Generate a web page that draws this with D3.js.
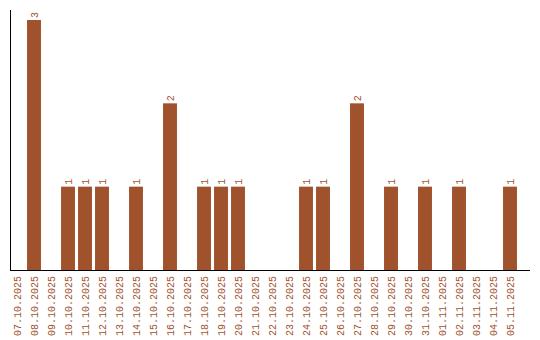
<!DOCTYPE html>
<html>
<head>
<meta charset="utf-8">
<script src="https://cdn.jsdelivr.net/npm/d3@7"></script>
<style>
  body { margin: 0; background: #fff; }
  text { font-family: "Liberation Mono", monospace; font-size: 10px; fill: #a0522d; }
</style>
</head>
<body>
<script>
// dates shown along the bottom
const dates = ['07.10.2025', '08.10.2025', '09.10.2025', '10.10.2025', '11.10.2025', '12.10.2025',
  '13.10.2025', '14.10.2025', '15.10.2025', '16.10.2025', '17.10.2025', '18.10.2025', '19.10.2025',
  '20.10.2025', '21.10.2025', '22.10.2025', '23.10.2025', '24.10.2025', '25.10.2025', '26.10.2025',
  '27.10.2025', '28.10.2025', '29.10.2025', '30.10.2025', '31.10.2025', '01.11.2025', '02.11.2025',
  '03.11.2025', '04.11.2025', '05.11.2025'];

// count per day
const counts = [0, 3, 0, 1, 1, 1, 0, 1, 0, 2, 0, 1, 1, 1, 0, 0, 0, 1, 1, 0,
  2, 0, 1, 0, 1, 0, 1, 0, 0, 1];

const yDomain = [0, 3];

let width = 540,
  height = 340;

let svg = d3.select('body').append('svg')
  .attr('width', width)
  .attr('height', height);

let x = d3.scaleBand()
  .domain(dates)
  .range([8.5, 518.5])
  .paddingInner(0.18)
  .paddingOuter(0.09);

let y = d3.scaleLinear()
  .domain(yDomain)
  .range([270, 20]);

let data = dates.map((d, i) => ({ date: d, value: counts[i] }));

// bars
svg.selectAll('rect.bar')
  .data(data.filter(d => d.value > 0))
  .enter()
  .append('rect')
  .attr('class', 'bar')
  .attr('x', d => x(d.date))
  .attr('y', d => y(d.value))
  .attr('width', x.bandwidth())
  .attr('height', d => y(0) - y(d.value))
  .style('fill', '#a0522d');

// value labels on top of bars
svg.selectAll('text.val')
  .data(data.filter(d => d.value > 0))
  .enter()
  .append('text')
  .attr('class', 'val')
  .attr('transform', d => 'translate(' + (x(d.date) + x.bandwidth() / 2 + 3.5) + ',' + (y(d.value) - 2) + ') rotate(-90)')
  .text(d => d.value);

// x axis labels
svg.selectAll('text.date')
  .data(dates)
  .enter()
  .append('text')
  .attr('class', 'date')
  .attr('text-anchor', 'end')
  .attr('transform', d => 'translate(' + (x(d) + x.bandwidth() / 2 + 3.5) + ',' + 276 + ') rotate(-90)')
  .text(d => d);

// axis lines
svg.append('line')
  .attr('x1', 10.5).attr('x2', 10.5)
  .attr('y1', 10).attr('y2', 270)
  .style('stroke', '#000');

svg.append('line')
  .attr('x1', 10).attr('x2', 530)
  .attr('y1', 270.5).attr('y2', 270.5)
  .style('stroke', '#000');
</script>
</body>
</html>
